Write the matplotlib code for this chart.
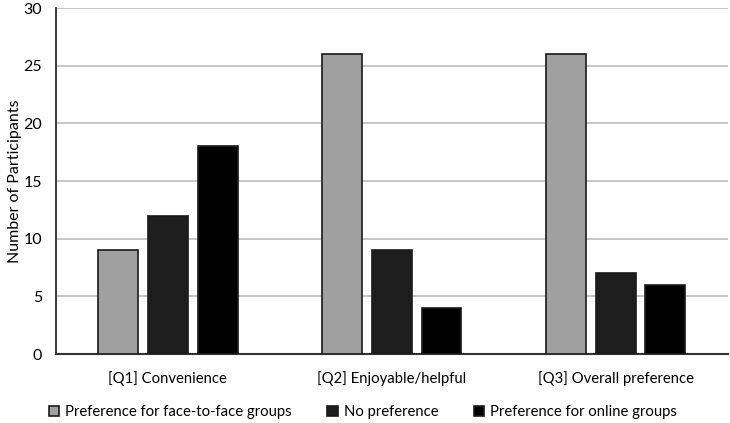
import matplotlib
matplotlib.use("Agg")
import matplotlib.pyplot as plt
import numpy as np

categories = ["[Q1] Convenience", "[Q2] Enjoyable/helpful", "[Q3] Overall preference"]
series_names = ["Preference for face-to-face groups", "No preference", "Preference for online groups"]
face_to_face = [9, 26, 26]
no_pref = [12, 9, 7]
online = [18, 4, 6]
colors = ["#a0a0a0", "#1e1e1e", "#000000"]

plt.rcParams['font.family'] = ['Lato', 'DejaVu Sans']
fig = plt.figure(figsize=(7.3, 4.23), dpi=100)
ax = fig.add_axes([0.0767, 0.163, 0.920, 0.818])

x = np.arange(len(categories))
w = 0.178
step = 0.222
for i, (vals, name) in enumerate(zip([face_to_face, no_pref, online], series_names)):
    ax.bar(x + (i - 1) * step, vals, width=w, color=colors[i], edgecolor="#1a1a1a",
           linewidth=1.2, label=name, zorder=3)

ax.set_xlim(-0.5, 2.5)
ax.set_ylim(0, 30)
ax.set_yticks(range(0, 31, 5))
ax.yaxis.grid(True, color="#bdbdbd", linewidth=1.2, zorder=0)
ax.set_axisbelow(True)
ax.set_xticks(x)
ax.set_xticklabels(categories, fontsize=10.7)
ax.tick_params(axis='x', length=0, pad=12)
ax.tick_params(axis='y', length=0, pad=10, labelsize=11.5)
for s in ["top", "right"]:
    ax.spines[s].set_visible(False)
ax.spines["left"].set_color("#1a1a1a")
ax.spines["bottom"].set_color("#333333")
ax.spines["left"].set_linewidth(1.2)
ax.spines["bottom"].set_linewidth(1.5)
ax.set_ylabel("Number of Participants", fontsize=11.5, labelpad=1)

fig.legend(loc="center", ncol=3, frameon=False, fontsize=10.7,
           bbox_to_anchor=(0.497, 1 - 412 / 423), handlelength=0.7, handleheight=0.7,
           handletextpad=0.4, columnspacing=2.4)

fig.savefig("out.png", dpi=100)
